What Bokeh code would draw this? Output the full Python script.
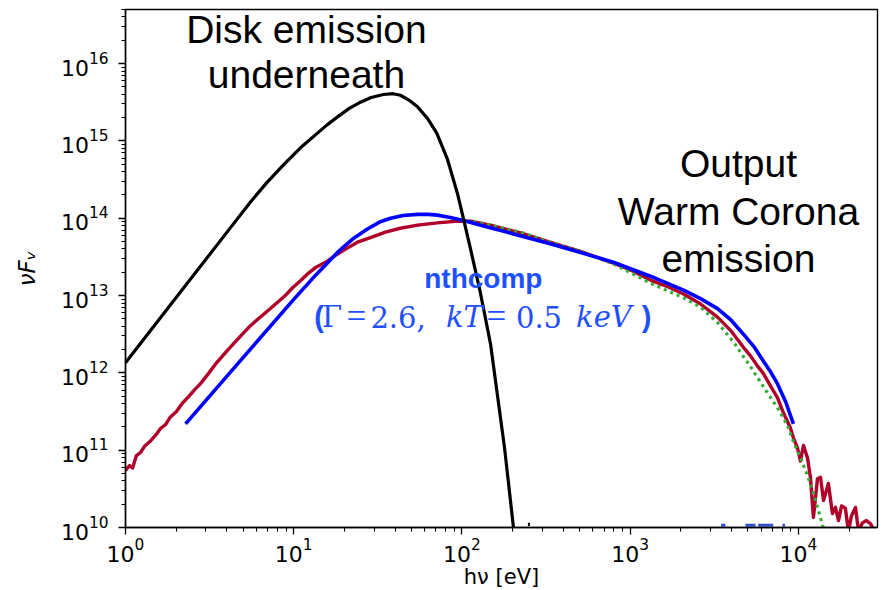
import numpy as np
from bokeh.plotting import figure
from bokeh.models import Label, FixedTicker
from bokeh.embed import file_html
from bokeh.resources import INLINE

NaN = float("nan")

# ---- data (log10 of photon energy [eV] and log10 of nuF_nu) ----
disk_logE = [0.000, 0.300, 0.600, 0.743, 0.840, 0.939, 1.040, 1.141, 1.200, 1.260, 1.330,
             1.397, 1.460, 1.533, 1.590, 1.634, 1.690, 1.736, 1.795, 1.850, 1.914, 1.973,
             2.009, 2.051, 2.110, 2.170, 2.199, 2.253, 2.306, NaN, 2.392, 2.404]
disk_logF = [12.13, 12.97, 13.81, 14.21, 14.46, 14.69, 14.91, 15.10, 15.21, 15.31, 15.42,
             15.50, 15.56, 15.60, 15.61, 15.59, 15.52, 15.44, 15.29, 15.10, 14.76, 14.32,
             13.99, 13.60, 13.03, 12.37, 11.90, 11.03, 10.00, NaN, 10.04, 10.04]

nthcomp_logE = [0.357, 0.700, 1.000, 1.133, 1.266, 1.350, 1.438, 1.510, 1.575, 1.650, 1.736,
                1.800, 1.854, 1.930, 2.009, 2.128, 2.300, 2.508, 2.700, 2.900, 3.120, 3.317,
                3.418, 3.519, 3.596, 3.673, 3.735, 3.792, 3.835, 3.875, 3.925, 3.970]
nthcomp_logF = [11.34, 12.20, 12.95, 13.27, 13.57, 13.73, 13.86, 13.95, 14.00, 14.035, 14.05,
                14.05, 14.04, 14.01, 13.97, 13.90, 13.80, 13.68, 13.56, 13.43, 13.25, 13.07,
                12.96, 12.83, 12.69, 12.50, 12.34, 12.15, 12.01, 11.86, 11.62, 11.34]

corona_logE = [0.000, 0.024, 0.042, 0.065, 0.089, 0.113, 0.149, 0.178, 0.208, 0.238, 0.267,
               0.303, 0.339, 0.374, 0.410, 0.446, 0.493, 0.541, 0.594, 0.648, 0.695, 0.743,
               0.790, 0.844, 0.892, 0.945, 0.993, 1.040, 1.088, 1.135, 1.189, 1.248, 1.308,
               1.379, 1.456, 1.545, 1.634, 1.736, 1.854, 1.961, 2.051, 2.169, 2.348, 2.508,
               2.704, 2.900, 3.020, 3.120, 3.227, 3.317, 3.418, 3.519, 3.596, 3.673, 3.715,
               3.756, 3.792, 3.834, 3.875, 3.911, 3.952, 3.970, 3.994, 4.012, 4.030, 4.054,
               4.071, 4.089, 4.113, 4.131, 4.149, 4.178, 4.202, 4.220, 4.238, 4.256, 4.279,
               4.297, 4.315, 4.339, 4.357, 4.380, 4.404, 4.428, 4.452]
corona_logF = [10.74, 10.80, 10.77, 10.93, 10.97, 11.05, 11.12, 11.19, 11.28, 11.33, 11.43,
               11.50, 11.61, 11.69, 11.78, 11.86, 11.99, 12.13, 12.26, 12.39, 12.50, 12.61,
               12.70, 12.80, 12.89, 12.99, 13.10, 13.19, 13.29, 13.37, 13.43, 13.52, 13.60,
               13.69, 13.75, 13.82, 13.87, 13.91, 13.94, 13.96, 13.96, 13.91, 13.81, 13.70,
               13.57, 13.42, 13.31, 13.20, 13.11, 13.02, 12.89, 12.72, 12.55, 12.33, 12.22,
               12.09, 11.99, 11.83, 11.68, 11.48, 11.29, 11.16, 11.03, 10.86, 11.06, 10.90,
               10.65, 10.13, 10.63, 10.65, 10.35, 10.57, 10.18, 10.26, 10.09, 10.28, 10.25,
               9.95, 10.15, 10.26, 9.95, 10.06, 10.09, 10.05, 9.95]

fit_logE = [2.068, 2.348, 2.508, 2.704, 2.900, 3.120, 3.317, 3.418, 3.519, 3.614, 3.673,
            3.715, 3.774, 3.816, 3.875, 3.935, 3.970, 4.012, 4.054, 4.089, 4.119, 4.143, 4.165]
fit_logF = [13.96, 13.82, 13.70, 13.57, 13.41, 13.16, 12.97, 12.85, 12.65, 12.40, 12.21,
            12.08, 11.88, 11.74, 11.55, 11.32, 11.11, 10.90, 10.67, 10.44, 10.22, 10.03, 9.90]

residual_logE = [3.540, 3.565, NaN, 3.685, 3.745, NaN, 3.760, 3.850, NaN, 3.905, 3.920]
residual_logF = [10.03, 10.03, NaN, 10.03, 10.03, NaN, 10.03, 10.03, NaN, 10.03, 10.03]

x_major = [1e0, 1e1, 1e2, 1e3, 1e4]
y_major = [1e10, 1e11, 1e12, 1e13, 1e14, 1e15, 1e16]


def lin(a):
    return np.power(10.0, np.array(a, dtype=float))


p = figure(x_axis_type="log", y_axis_type="log",
           x_range=(1.0, 2.95e4), y_range=(1e10, 5e16),
           frame_width=752, frame_height=518,
           min_border_left=125, min_border_right=8, min_border_top=9, min_border_bottom=55,
           output_backend="svg", toolbar_location=None,
           background_fill_color="white", border_fill_color="white")

p.xgrid.visible = False
p.ygrid.visible = False
p.outline_line_color = "black"
p.outline_line_width = 1.4

x_minor = [m * d for d in [1e0, 1e1, 1e2, 1e3, 1e4] for m in range(2, 10)]
y_minor = [m * d for d in [1e10, 1e11, 1e12, 1e13, 1e14, 1e15, 1e16] for m in range(2, 10)]
p.xaxis.ticker = FixedTicker(ticks=x_major, minor_ticks=x_minor)
p.yaxis.ticker = FixedTicker(ticks=y_major, minor_ticks=y_minor)

for ax in (p.xaxis, p.yaxis):
    ax.axis_line_color = "black"
    ax.axis_line_width = 1.4
    ax.major_tick_line_color = "black"
    ax.major_tick_line_width = 1.3
    ax.minor_tick_line_color = "black"
    ax.minor_tick_line_width = 1.0
    ax.major_tick_in = 0
    ax.major_tick_out = 7
    ax.minor_tick_in = 0
    ax.minor_tick_out = 4
    ax.major_label_text_font = "DejaVu Sans"
    ax.major_label_text_font_size = "22px"
    ax.major_label_text_color = "black"
    ax.axis_label_text_font = "DejaVu Sans"
    ax.axis_label_text_font_size = "21px"
    ax.axis_label_text_color = "black"

p.xaxis.axis_label = "hν [eV]"
p.xaxis.axis_label_text_font_style = "normal"
p.xaxis.major_label_standoff = 3
p.xaxis.axis_label_standoff = 0

p.yaxis.axis_label = "νFᵥ"
p.yaxis.axis_label_text_font_style = "italic"
p.yaxis.axis_label_text_font_size = "23px"
p.yaxis.major_label_standoff = 10
p.yaxis.axis_label_standoff = 18

# ---- curves ----
p.line(lin(corona_logE), lin(corona_logF), line_color="#b0002a", line_width=3.4, line_join="round")
p.line(lin(fit_logE), lin(fit_logF), line_color="#35ab3a", line_width=3.2, line_dash="3 4")
p.line(lin(residual_logE), lin(residual_logF), line_color="#3050d0", line_width=3)
p.line(lin(nthcomp_logE), lin(nthcomp_logF), line_color="#0000ff", line_width=3.6, line_join="round")
p.line(lin(disk_logE), lin(disk_logF), line_color="black", line_width=3.2, line_join="round")

# ---- annotations ----
big = dict(text_font="Liberation Sans", text_font_size="39px", text_color="black",
           text_align="center", text_baseline="alphabetic")
p.add_layout(Label(x=11.9, y=2.75e16, text="Disk emission", **big))
p.add_layout(Label(x=11.9, y=7.23e15, text="underneath", **big))
p.add_layout(Label(x=4400, y=5.13e14, text="Output", **big))
p.add_layout(Label(x=4400, y=1.233e14, text="Warm Corona", **big))
p.add_layout(Label(x=4400, y=3.05e13, text="emission", **big))

blue_txt = "#1e50ff"
p.add_layout(Label(x=134, y=1.68e13, text="nthcomp", text_font="Liberation Sans",
                   text_font_style="bold", text_font_size="28px", text_color=blue_txt,
                   text_align="center", text_baseline="alphabetic"))

math_y = 5.28e12
pieces = [
    (14.13, "(", "Liberation Sans", "bold", "29px"),
    (16.88, "Γ", "DejaVu Serif", "normal", "29px"),
    (23.6, "=", "Liberation Serif", "normal", "35px"),
    (41.7, "2.6,", "DejaVu Serif", "normal", "29px"),
    (103.5, "kT", "DejaVu Serif", "italic", "29px"),
    (160.3, "=", "Liberation Serif", "normal", "35px"),
    (287.0, "0.5", "DejaVu Serif", "normal", "29px"),
    (698.0, "keV", "DejaVu Serif", "italic", "29px"),
    (1250.0, ")", "Liberation Sans", "bold", "29px"),
]
for xv, t, f, st, sz in pieces:
    p.add_layout(Label(x=xv, y=math_y, text=t, text_font=f, text_font_style=st,
                       text_font_size=sz, text_color=blue_txt,
                       text_align="center", text_baseline="alphabetic"))

open("out.html", "w").write(file_html(p, INLINE))
